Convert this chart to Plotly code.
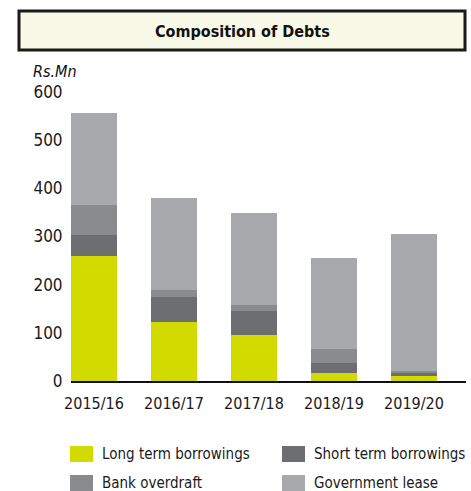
import plotly.graph_objects as go

years = ["2015/16", "2016/17", "2017/18", "2018/19", "2019/20"]
long_term = [260, 123, 96, 17, 10]
short_term = [44, 52, 50, 21, 7]
bank_overdraft = [61, 13, 12, 29, 4]
government_lease = [191, 192, 190, 189, 285]
series_names = ["Long term borrowings", "Short term borrowings", "Bank overdraft", "Government lease"]
colors = ["#d1db00", "#6d6e72", "#8a8b8d", "#a8a9ac"]
y_ticks = [0, 100, 200, 300, 400, 500, 600]

FONT = "DejaVu Sans Condensed, Liberation Sans Narrow, sans-serif"
W, H = 471, 491
L, R, T, B = 71, 5, 92, 110
pw, ph = W - L - R, H - T - B


def px(x):
    return (x - L) / pw


def py(y):
    return (H - B - y) / ph


fig = go.Figure()
for name, vals, col in zip(series_names, [long_term, short_term, bank_overdraft, government_lease], colors):
    fig.add_trace(go.Bar(x=years, y=vals, name=name, marker=dict(color=col, line=dict(width=0)),
                         showlegend=False))

fig.update_layout(
    barmode="stack",
    bargap=0.425,
    width=W, height=H,
    margin=dict(l=L, r=R, t=T, b=B),
    plot_bgcolor="white", paper_bgcolor="white",
    font=dict(family=FONT, size=17, color="#1a1a1a"),
    xaxis=dict(range=[-0.2875, 4.65], showline=True, linecolor="#111111", linewidth=2,
               showgrid=False, zeroline=False, ticks="outside", ticklen=7, tickcolor="rgba(0,0,0,0)",
               tickfont=dict(size=16)),
    yaxis=dict(range=[0, 600], tickvals=y_ticks, showgrid=False, zeroline=False, showline=False,
               ticks="outside", ticklen=4, tickcolor="rgba(0,0,0,0)", tickfont=dict(size=17)),
)

# Title box
fig.add_shape(type="rect", xref="paper", yref="paper", x0=px(19), x1=px(465), y0=py(50), y1=py(11),
              fillcolor="#f8f9e6", line=dict(color="#1a1a1a", width=3), layer="above")
fig.add_annotation(xref="paper", yref="paper", x=px(242), y=py(31), text="<b>Composition of Debts</b>",
                   showarrow=False, font=dict(family=FONT, size=16, color="#111111"),
                   xanchor="center", yanchor="middle")
fig.add_annotation(xref="paper", yref="paper", x=px(31), y=py(71), text="<i>Rs.Mn</i>",
                   showarrow=False, font=dict(family=FONT, size=16, color="#111111"),
                   xanchor="left", yanchor="middle")

# Legend
legend_pos = [(70, 446), (282, 446), (70, 475), (282, 475)]
for (lx, ly), name, col in zip(legend_pos, series_names, colors):
    fig.add_shape(type="rect", xref="paper", yref="paper", x0=px(lx), x1=px(lx + 23),
                  y0=py(ly + 16), y1=py(ly), fillcolor=col, line=dict(width=0))
    fig.add_annotation(xref="paper", yref="paper", x=px(lx + 30), y=py(ly + 8), text=name,
                       showarrow=False, font=dict(family=FONT, size=15, color="#1a1a1a"),
                       xanchor="left", yanchor="middle")

fig.write_html("out.html")
